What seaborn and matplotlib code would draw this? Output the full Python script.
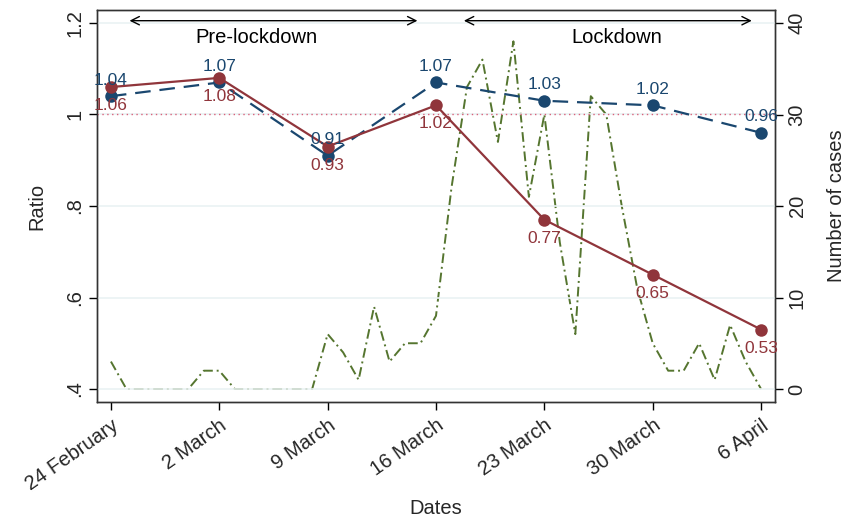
import numpy as np
import pandas as pd
import matplotlib
matplotlib.use("Agg")
import matplotlib.pyplot as plt
import seaborn as sns

# ---- data ----
date_labels = ["24 February", "2 March", "9 March", "16 March", "23 March", "30 March", "6 April"]
week_days = [0, 7, 14, 21, 28, 35, 42]
ratio_blue = [1.04, 1.07, 0.91, 1.07, 1.03, 1.02, 0.96]
ratio_red = [1.06, 1.08, 0.93, 1.02, 0.77, 0.65, 0.53]
blue_labels = ["1.04", "1.07", "0.91", "1.07", "1.03", "1.02", "0.96"]
red_labels = ["1.06", "1.08", "0.93", "1.02", "0.77", "0.65", "0.53"]
case_days = list(range(43))
cases = [3, 0, 0, 0, 0, 0, 2, 2, 0, 0, 0, 0, 0, 0,
         6, 4, 1, 9, 3, 5, 5, 8, 22, 33, 36, 27, 38, 21,
         30, 16, 6, 32, 30, 20, 11, 5, 2, 2, 5, 1, 7, 3, 0]

sns.set_theme(style="white")
plt.rcParams['font.family'] = ['Liberation Sans', 'DejaVu Sans']

BLUE = "#1a476f"
RED = "#90353b"
GREEN = "#55752f"

fig = plt.figure(figsize=(8.49, 5.21), dpi=100)
ax = fig.add_axes([97/849, 1-402/521, (775-97)/849, (402-10)/521])
ax2 = ax.twinx()
ax.set_zorder(ax2.get_zorder() + 1)
ax.patch.set_visible(False)

df_cases = pd.DataFrame({"day": case_days, "cases": cases})
sns.lineplot(data=df_cases, x="day", y="cases", ax=ax2, color=GREEN, lw=1.4,
             linestyle=(0, (5, 2, 1, 2)))

df_r = pd.DataFrame({"day": week_days, "blue": ratio_blue, "red": ratio_red})
ax.axhline(1.0, color="#d9607a", lw=1.0, ls=(0, (1, 2.5)), zorder=1)
sns.lineplot(data=df_r, x="day", y="blue", ax=ax, color=BLUE, lw=1.6,
             linestyle=(0, (7, 4)), marker="o", markersize=9, markeredgewidth=0, zorder=3)
sns.lineplot(data=df_r, x="day", y="red", ax=ax, color=RED, lw=1.6,
             marker="o", markersize=9, markeredgewidth=0, zorder=4)

for d, v, t in zip(week_days, ratio_blue, blue_labels):
    ax.annotate(t, (d, v), xytext=(0, 6), textcoords="offset points",
                ha="center", va="bottom", color=BLUE, fontsize=12.5, zorder=5)
for d, v, t in zip(week_days, ratio_red, red_labels):
    ax.annotate(t, (d, v), xytext=(0, -8), textcoords="offset points",
                ha="center", va="top", color=RED, fontsize=12.5, zorder=5)

# arrows
ax.annotate("", xy=(1.2, 1.205), xytext=(19.8, 1.205),
            arrowprops=dict(arrowstyle="<->", color="black", lw=1.0, shrinkA=0, shrinkB=0,
                            mutation_scale=15))
ax.text(9.4, 1.168, "Pre-lockdown", ha="center", va="center", fontsize=14.5, color="black")
ax.annotate("", xy=(22.8, 1.205), xytext=(41.4, 1.205),
            arrowprops=dict(arrowstyle="<->", color="black", lw=1.0, shrinkA=0, shrinkB=0,
                            mutation_scale=15))
ax.text(32.7, 1.168, "Lockdown", ha="center", va="center", fontsize=14.5, color="black")

# axes
ax.set_xlim(-0.9, 42.9)
ax.set_ylim(0.4 - 13/458, 1.2 + 13/458)
ax2.set_ylim(-13/9.15, 40 + 13/9.15)
ax.set_xticks(week_days)
ax.set_xticklabels(date_labels, rotation=35, ha="right", rotation_mode="anchor", fontsize=14.5)
ax.set_yticks([0.4, 0.6, 0.8, 1.0, 1.2])
ax.set_yticklabels([".4", ".6", ".8", "1", "1.2"], rotation=90, va="center", fontsize=14.5)
ax2.set_yticks([0, 10, 20, 30, 40])
ax2.set_yticklabels(["0", "10", "20", "30", "40"], rotation=90, va="center", fontsize=14.5)
ax.grid(axis="y", color="#eaf2f3", lw=1.2)
ax2.grid(False)
ax.set_axisbelow(True)
ax.set_xlabel("Dates", fontsize=14.5, labelpad=4)
ax.set_ylabel("Ratio", fontsize=14.5, labelpad=14)
ax2.set_ylabel("Number of cases", fontsize=14.5, labelpad=15)
for a in (ax, ax2):
    a.tick_params(axis="both", which="both", length=6, width=1, color="black", direction="out")
    for s in a.spines.values():
        s.set_color("#333333")
        s.set_linewidth(1.0)
ax.tick_params(axis="x", pad=4, bottom=True)
ax.tick_params(axis="y", pad=3, left=True)
ax2.tick_params(axis="y", pad=3, right=True)

fig.savefig("out.png", dpi=100)
